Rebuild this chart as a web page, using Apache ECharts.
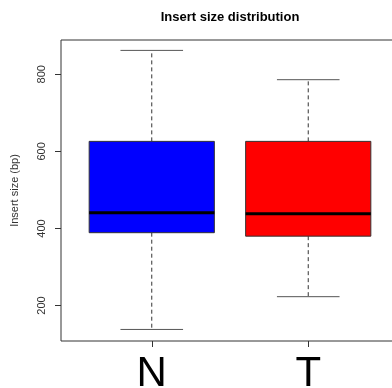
<!DOCTYPE html>
<html>
<head>
<meta charset="utf-8">
<script src="https://cdn.jsdelivr.net/npm/echarts@6/dist/echarts.min.js"></script>
<style>
html,body{margin:0;padding:0;background:#fff;}
#main{width:392px;height:388px;}
</style>
</head>
<body>
<div id="main"></div>
<script>
const categories = ['N', 'T'];
const lowWhisker = [138, 223];
const q1 = [389, 380];
const median = [441, 438];
const q3 = [626, 626];
const highWhisker = [862, 786];
const yTicks = [200, 400, 600, 800];
const boxColors = ['#0000FF', '#FF0000'];

const data = categories.map((c, i) => [i + 1, lowWhisker[i], q1[i], median[i], q3[i], highWhisker[i]]);

const chart = echarts.init(document.getElementById('main'), null, {renderer: 'canvas'});
chart.setOption({
  animation: false,
  backgroundColor: '#fff',
  title: {
    text: 'Insert size distribution',
    left: 225, top: 6, textAlign: 'center',
    textStyle: {fontFamily: 'Liberation Sans', fontSize: 13, fontWeight: 'bold', color: '#000'}
  },
  grid: {left: 61, top: 40, width: 338, height: 301, outerBoundsMode: 'none', containLabel: false,
    show: true, borderColor: '#333', borderWidth: 1, backgroundColor: 'transparent'},
  xAxis: {
    type: 'value', min: 0.42, max: 2.58,
    axisLine: {show: false},
    splitLine: {show: false},
    axisTick: {show: true, length: 6, customValues: [1, 2], lineStyle: {color: '#333'}},
    axisLabel: {
      customValues: [1, 2],
      formatter: v => categories[Math.round(v) - 1],
      fontFamily: 'Liberation Sans', fontSize: 42, color: '#000', margin: 12
    }
  },
  yAxis: {
    type: 'value', min: 108, max: 889,
    name: 'Insert size (bp)', nameLocation: 'middle', nameRotate: 90, nameGap: 41,
    nameTextStyle: {fontFamily: 'Liberation Sans', fontSize: 11, color: '#333'},
    axisLine: {show: false},
    splitLine: {show: false},
    axisTick: {show: true, length: 6, customValues: yTicks, lineStyle: {color: '#333'}},
    axisLabel: {
      customValues: yTicks, rotate: 90,
      fontFamily: 'Liberation Sans', fontSize: 11, color: '#333', margin: 14
    }
  },
  series: [{
    type: 'custom',
    data: data,
    encode: {x: 0, y: [1, 2, 3, 4, 5]},
    renderItem: function (params, api) {
      const i = params.dataIndex;
      const x = api.value(0);
      const bw = api.size([0.8, 0])[0];
      const cw = bw / 2;
      const pLow = api.coord([x, api.value(1)]);
      const pQ1 = api.coord([x, api.value(2)]);
      const pMed = api.coord([x, api.value(3)]);
      const pQ3 = api.coord([x, api.value(4)]);
      const pHigh = api.coord([x, api.value(5)]);
      const cx = pMed[0];
      const dash = {stroke: '#333', lineWidth: 1, lineDash: [4, 3]};
      const cap = {stroke: '#555', lineWidth: 1};
      return {
        type: 'group',
        children: [
          {type: 'line', shape: {x1: cx, y1: pQ3[1], x2: cx, y2: pHigh[1]}, style: dash},
          {type: 'line', shape: {x1: cx, y1: pQ1[1], x2: cx, y2: pLow[1]}, style: dash},
          {type: 'line', shape: {x1: cx - cw / 2, y1: pHigh[1], x2: cx + cw / 2, y2: pHigh[1]}, style: cap},
          {type: 'line', shape: {x1: cx - cw / 2, y1: pLow[1], x2: cx + cw / 2, y2: pLow[1]}, style: cap},
          {type: 'rect', shape: {x: cx - bw / 2, y: pQ3[1], width: bw, height: pQ1[1] - pQ3[1]},
            style: {fill: boxColors[i], stroke: '#333', lineWidth: 1}},
          {type: 'line', shape: {x1: cx - bw / 2, y1: pMed[1], x2: cx + bw / 2, y2: pMed[1]},
            style: {stroke: '#000', lineWidth: 3}}
        ]
      };
    }
  }]
});
</script>
</body>
</html>
